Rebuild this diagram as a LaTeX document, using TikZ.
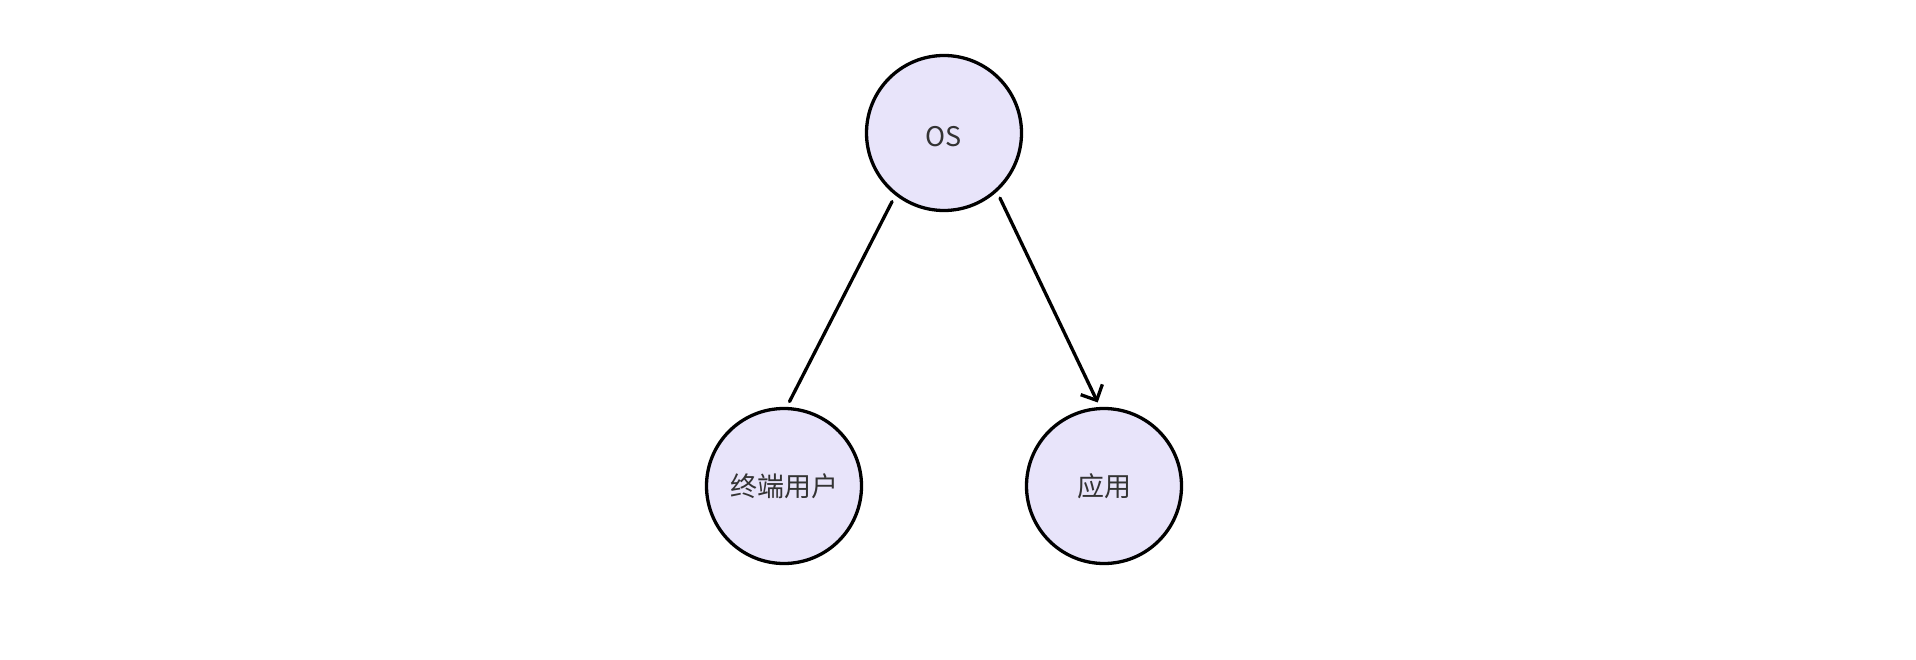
\documentclass[tikz,border=0pt]{standalone}
\usepackage{fontspec}
\setmainfont{Noto Sans CJK SC}
\usetikzlibrary{arrows.meta}
\definecolor{nodefill}{HTML}{E8E4FA}
\definecolor{txt}{HTML}{333333}
\tikzset{
  circ/.style={circle, draw=black, fill=nodefill, line width=3.3pt, minimum size=155pt, inner sep=0pt, text=txt, font=\fontsize{27}{30}\selectfont},
  conn/.style={line width=3.3pt, line cap=round, draw=black},
}
\begin{document}
\begin{tikzpicture}[x=1pt,y=1pt]
\useasboundingbox (0,0) rectangle (1916,-660);
\fill[white] (0,0) rectangle (1916,-660);
\node[circ, text height=28pt, text depth=0pt] (os) at (944,-133) {OS};
\node[circ] (eu) at (784,-486) {终端用户};
\node[circ] (app) at (1104,-486) {应用};
\draw[conn, shorten <=7pt, shorten >=6pt] (os.232) -- (eu.88);
\draw[conn, shorten <=7pt, shorten >=5pt, -{Straight Barb[length=12pt,width=24pt,line width=3.3pt]}] (os.-48) -- (app.93);
\end{tikzpicture}
\end{document}
